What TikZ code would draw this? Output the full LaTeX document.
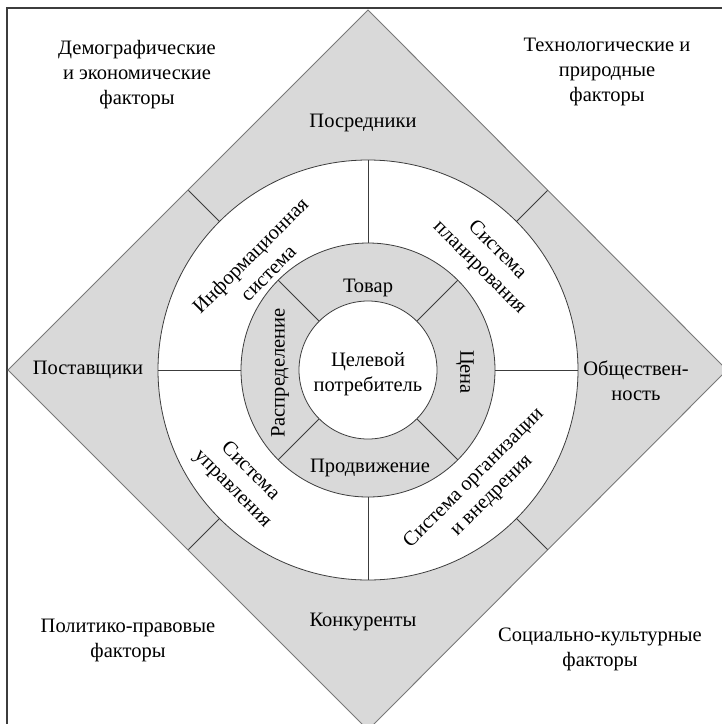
\documentclass[tikz,border=0pt]{standalone}
\usepackage{fontspec}
\setmainfont{Liberation Serif}
\usetikzlibrary{calc}
\definecolor{RingGray}{RGB}{217,217,217}
\definecolor{EdgeGray}{RGB}{120,120,120}
\definecolor{LineDark}{RGB}{60,60,60}
\tikzset{
  lbl/.style={font=\fontsize{20.5}{25}\selectfont,align=center,inner sep=0pt,text=black},
  part/.style={draw=LineDark,line width=.8pt}
}

\begin{document}
\begin{tikzpicture}[x=1pt,y=-1pt]
      \useasboundingbox (0,0) rectangle (722,724);
      \coordinate (c) at (368,370);
      \draw[LineDark,line width=1.3pt] (7,724)--(7,8)--(722,8);
      % diamond with the circles on top
      \filldraw[fill=RingGray,draw=EdgeGray,line width=.9pt]
        ($(c)+(0,-360)$)--($(c)+(359,0)$)--($(c)+(0,360)$)--($(c)+(-360,0)$)--cycle;
      \filldraw[part,fill=white] (c) circle (210);
      \filldraw[part,fill=RingGray] (c) circle (127);
      \foreach \a in {45,135,225,315}{
        \draw[part] ($(c)+(\a:210)$)--($(c)+(\a:254)$);
        \draw[part] ($(c)+(\a:69)$)--($(c)+(\a:127)$);
      }
      \foreach \a in {0,90,180,270}
        \draw[part] ($(c)+(\a:127)$)--($(c)+(\a:210)$);
      % corners
      \node[lbl] (demo) at (137,75) {Демографические\\и экономические\\факторы};
      \node[lbl] (tech) at (607,72) {Технологические и\\природные\\факторы};
      \node[lbl] (polit) at (128,640) {Политико-правовые\\факторы};
      \node[lbl] (social) at (600,649) {Социально-культурные\\факторы};
      % diamond
      \node[lbl] (posr) at (363,123) {Посредники};
      \node[lbl] (postav) at (88,370) {Поставщики};
      \node[lbl] (obsch) at (636,381) {Обществен-\\ность};
      \node[lbl] (konk) at (363,622) {Конкуренты};
      % white ring
      \node[lbl,rotate=45] (info) at (259,264) {Информационная\\система};
      \node[lbl,rotate=-45] (plan) at (488,259) {Система\\планирования};
      \node[lbl,rotate=-45] (uprav) at (241,480) {Система\\управления};
      \node[lbl,rotate=45] (org) at (483,487) {Система организации\\и внедрения};
      % gray ring
      \node[lbl] (tovar) at (368,288) {Товар};
      \node[lbl,rotate=-90] (cena) at (465,372) {Цена};
      \node[lbl,rotate=90] (raspr) at (280,373) {Распределение};
      \node[lbl] (prodv) at (370,468) {Продвижение};
      \filldraw[part,fill=white] (c) circle (69);
      \node[lbl] (potr) at (368,374) {Целевой\\потребитель};
    \end{tikzpicture}
\end{document}
